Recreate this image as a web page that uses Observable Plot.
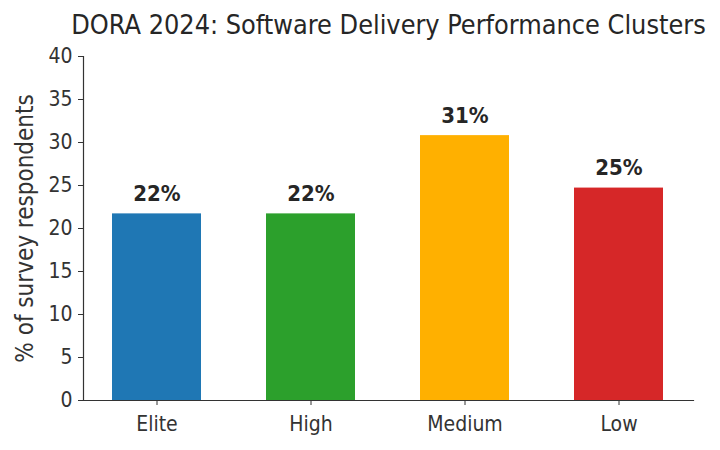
<!DOCTYPE html>
<html>
<head>
<meta charset="utf-8">
<script src="https://cdn.jsdelivr.net/npm/d3@7"></script>
<script src="https://cdn.jsdelivr.net/npm/@observablehq/plot@0.6"></script>
<style>
  html, body { margin: 0; padding: 0; background: #fff; }
  svg text { font-family: "DejaVu Sans Condensed", "DejaVu Sans", sans-serif; font-stretch: condensed; }
</style>
</head>
<body>
<div id="chart"></div>
<script>
const title = "DORA 2024: Software Delivery Performance Clusters";
const yLabel = "% of survey respondents";
const categories = ["Elite", "High", "Medium", "Low"];
const values = [21.7, 21.7, 30.8, 24.7];
const labels = ["22%", "22%", "31%", "25%"];
const colors = ["#1f77b4", "#2ca02c", "#ffb000", "#d62728"];
const yTicks = [0, 5, 10, 15, 20, 25, 30, 35, 40];

const data = categories.map((c, i) => ({cat: c, value: values[i], label: labels[i], color: colors[i]}));
const ink = "#333333";

const chart = Plot.plot({
  width: 720,
  height: 450,
  marginTop: 56,
  marginBottom: 50,
  marginLeft: 83,
  marginRight: 27,
  style: {fontFamily: "'DejaVu Sans Condensed', 'DejaVu Sans', sans-serif", color: ink, background: "#fff"},
  x: {domain: categories, paddingInner: 0.42, paddingOuter: 0.19, label: null},
  y: {domain: [0, 40], label: null},
  marks: [
    Plot.barY(data, {x: "cat", y: "value", fill: "color"}),
    Plot.text(data, {x: "cat", y: "value", text: "label", dy: -20, fontSize: 22, fontWeight: "bold", fill: "#262626"}),
    Plot.axisY({ticks: yTicks, tickSize: 5, tickPadding: 6, fontSize: 21, stroke: ink, fill: ink, label: null}),
    Plot.axisX({tickSize: 5, tickPadding: 11, fontSize: 21, stroke: ink, fill: ink, label: null}),
    Plot.frame({anchor: "left", stroke: ink, strokeWidth: 1.2}),
    Plot.frame({anchor: "bottom", stroke: ink, strokeWidth: 1.2}),
    Plot.text([yLabel], {frameAnchor: "left", textAnchor: "middle", lineAnchor: "middle", rotate: -90, dx: -58, fontSize: 24, fill: ink}),
    Plot.text([title], {frameAnchor: "top", lineAnchor: "middle", dy: -31, fontSize: 26.8, fill: "#262626"})
  ]
});
document.getElementById("chart").appendChild(chart);
</script>
</body>
</html>
